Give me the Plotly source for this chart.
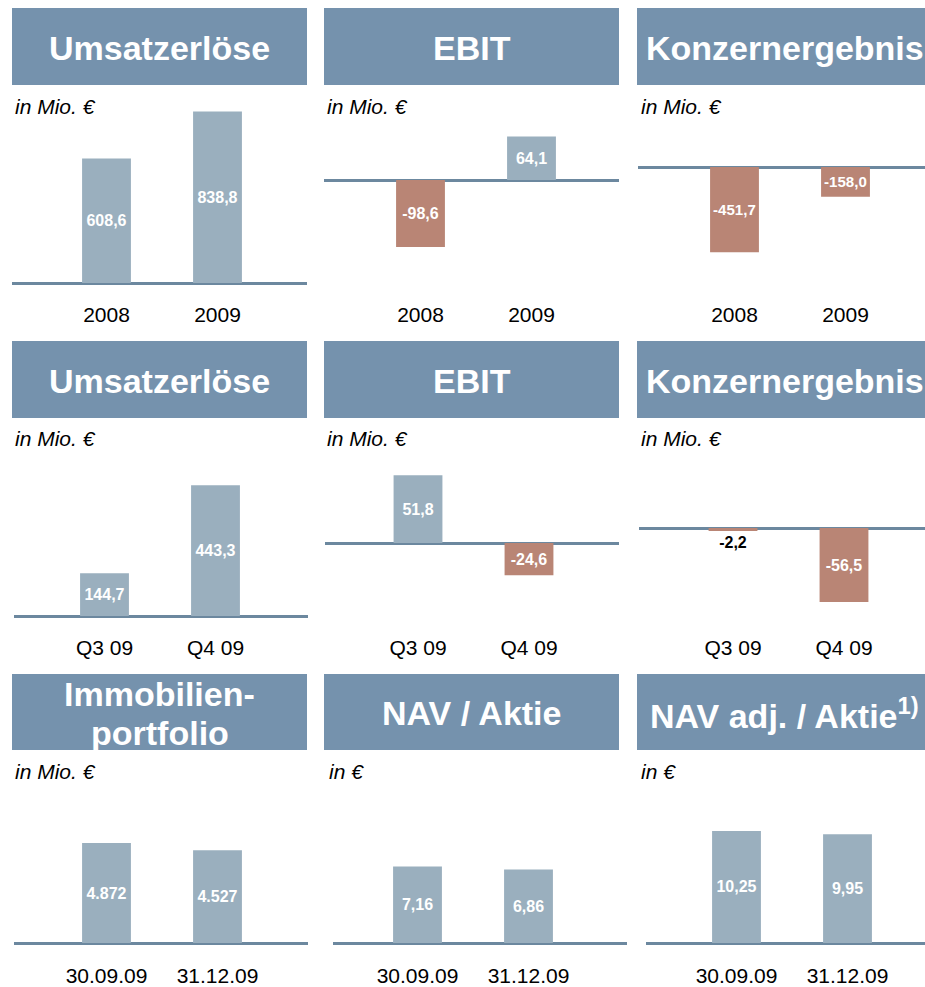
import plotly.graph_objects as go

# Data (German number formatting handled via layout.separators)
years = ["2008", "2009"]
quarters = ["Q3 09", "Q4 09"]
dates = ["30.09.09", "31.12.09"]

umsatz_year = [608.6, 838.8]
ebit_year = [-98.6, 64.1]
konzern_year = [-451.7, -158.0]
umsatz_quarter = [144.7, 443.3]
ebit_quarter = [51.8, -24.6]
konzern_quarter = [-2.2, -56.5]
portfolio = [4872, 4527]
nav_share = [7.16, 6.86]
nav_adj_share = [10.25, 9.95]

titles = ["Umsatzerlöse", "EBIT", "Konzernergebnis",
          "Umsatzerlöse", "EBIT", "Konzernergebnis",
          "Immobilien-\nportfolio", "NAV / Aktie", "NAV adj. / Aktie<sup>1)</sup>"]
units = ["in Mio. €"] * 7 + ["in €", "in €"]

panels = [
    (years, umsatz_year, ".1f"),
    (years, ebit_year, ".1f"),
    (years, konzern_year, ".1f"),
    (quarters, umsatz_quarter, ".1f"),
    (quarters, ebit_quarter, ".1f"),
    (quarters, konzern_quarter, ".1f"),
    (dates, portfolio, ",.0f"),
    (dates, nav_share, ".2f"),
    (dates, nav_adj_share, ".2f"),
]

W, H = 925, 987
HEADER = "#7592ad"
POS = "#9aafbe"
NEG = "#b98575"
BASE = "#6c889f"
FONT = "Liberation Sans, Arial, sans-serif"


def fx(x):
    return x / W


def fy(y):
    return 1 - y / H


# layout geometry in pixels
header_cols = [(12, 307), (324, 619), (637, 932)]
header_rows = [(8, 85), (341, 418), (674, 750)]
plot_rows = [(110, 300), (470, 633), (800, 961)]
unit_y = [106, 439, 771]
unit_x = [[13, 325, 639], [13, 325, 639], [13, 327, 639]]
# per panel: x domain, first bar centre, baseline pixel, pixels per unit
geom = [
    ((12, 307), 106.5, 283, 0.2045),
    ((324, 619), 420.5, 180, 0.68),
    ((638, 925), 734.5, 167, 0.189),
    ((14, 308), 104.5, 616, 0.295),
    ((325, 619), 418, 543, 1.31),
    ((639, 925), 733, 528, 1.31),
    ((14, 308), 106.5, 943, 0.0205),
    ((333, 627), 417.5, 943, 10.7),
    ((646, 925), 736.5, 943, 10.93),
]
STEP = 111  # pixels between bar centres

fig = go.Figure()
shapes = []
annotations = []

for i, (cats, vals, fmt) in enumerate(panels):
    r, c = divmod(i, 3)
    n = "" if i == 0 else str(i + 1)
    (x0, x1), first, base, k = geom[i]
    top, bottom = plot_rows[r]

    fig.add_trace(go.Bar(
        x=cats, y=vals,
        xaxis="x" + n, yaxis="y" + n,
        width=0.44,
        marker=dict(color=[POS if v >= 0 else NEG for v in vals], line_width=0),
        texttemplate="%{y:" + fmt + "}",
        textposition="auto",
        textangle=0,
        insidetextanchor="middle",
        insidetextfont=dict(color="white", size=16, family=FONT, weight="bold"),
        outsidetextfont=dict(color="black", size=16, family=FONT, weight="bold"),
        cliponaxis=False,
        hoverinfo="skip",
    ))

    xr = [-(first - x0) / STEP, (x1 - first) / STEP]
    yr = [-(bottom - base) / k, (base - top) / k]
    fig.update_layout(**{
        "xaxis" + n: dict(
            domain=[fx(x0), min(fx(x1), 1)], range=xr, anchor="y" + n,
            showgrid=False, zeroline=False, showline=False, ticks="",
            tickfont=dict(size=21, color="black", family=FONT),
            fixedrange=True,
        ),
        "yaxis" + n: dict(
            domain=[fy(bottom), fy(top)], range=yr, anchor="x" + n,
            showgrid=False, showticklabels=False, ticks="",
            zeroline=True, zerolinecolor=BASE, zerolinewidth=3,
            fixedrange=True,
        ),
    })

    # header box and title
    hx0, hx1 = header_cols[c]
    hy0, hy1 = header_rows[r]
    shapes.append(dict(type="rect", xref="paper", yref="paper",
                       x0=fx(hx0), x1=fx(hx1), y0=fy(hy1), y1=fy(hy0),
                       fillcolor=HEADER, line_width=0, layer="below"))
    lines = titles[i].split("\n")
    mid = (hy0 + hy1) / 2 + 1
    for j, line in enumerate(lines):
        ly = mid + (j - (len(lines) - 1) / 2) * 39
        annotations.append(dict(
            text="<b>" + line + "</b>", xref="paper", yref="paper",
            x=fx((hx0 + hx1) / 2), y=fy(ly), xanchor="center", yanchor="middle",
            showarrow=False, font=dict(size=34, color="white", family=FONT),
        ))

    annotations.append(dict(
        text="<i>" + units[i] + "</i>", xref="paper", yref="paper",
        x=fx(unit_x[r][c]), y=fy(unit_y[r]), xanchor="left", yanchor="middle",
        showarrow=False, font=dict(size=21, color="black", family=FONT),
    ))

fig.update_layout(
    width=W, height=H,
    margin=dict(l=0, r=0, t=0, b=0),
    paper_bgcolor="white", plot_bgcolor="white",
    separators=",.",
    showlegend=False,
    shapes=shapes,
    annotations=annotations,
)

# drop the default page margin so the figure fills the window exactly
fig.write_html(
    "out.html",
    config={"displayModeBar": False},
    post_script="document.body.style.margin='0';"
                "document.body.style.overflow='hidden';"
                "document.documentElement.style.overflow='hidden';",
)
